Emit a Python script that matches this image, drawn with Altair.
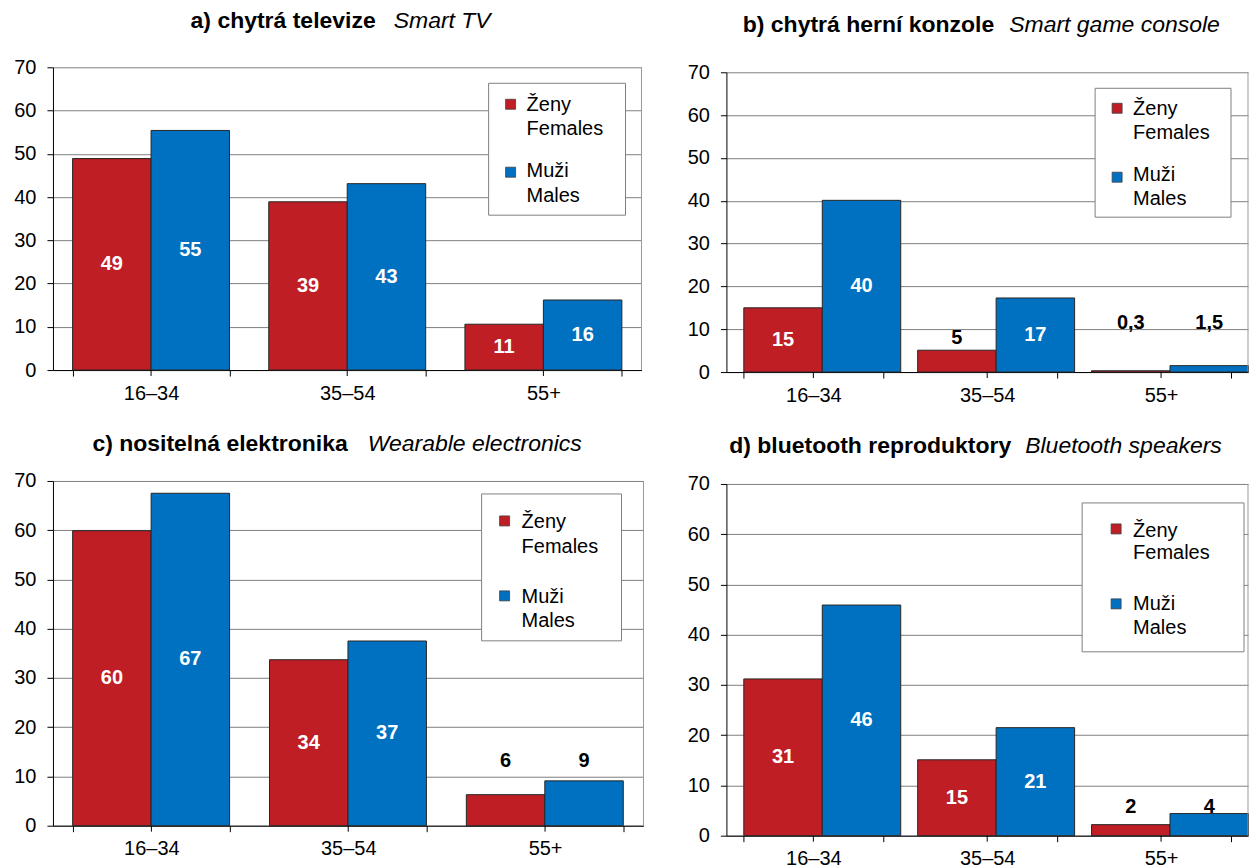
import altair as alt
import pandas as pd

# ---------------- data ----------------
age_groups = ["16–34", "35–54", "55+"]
sex_cz = ["Ženy", "Muži"]
sex_en = ["Females", "Males"]
bar_colors = ["#BE1E24", "#0070C0"]

titles_cz = ["a) chytrá televize", "b) chytrá herní konzole",
             "c) nositelná elektronika", "d) bluetooth reproduktory"]
titles_en = ["Smart TV", "Smart game console",
             "Wearable electronics", "Bluetooth speakers"]

tv_females = [48.9, 38.9, 10.6]
tv_males = [55.4, 43.1, 16.2]
tv_females_lbl = ["49", "39", "11"]
tv_males_lbl = ["55", "43", "16"]

console_females = [15.0, 5.1, 0.3]
console_males = [40.1, 17.3, 1.5]
console_females_lbl = ["15", "5", "0,3"]
console_males_lbl = ["40", "17", "1,5"]

wearable_females = [59.9, 33.7, 6.3]
wearable_males = [67.5, 37.5, 9.1]
wearable_females_lbl = ["60", "34", "6"]
wearable_males_lbl = ["67", "37", "9"]

speakers_females = [31.2, 15.1, 2.2]
speakers_males = [45.9, 21.5, 4.4]
speakers_females_lbl = ["31", "15", "2"]
speakers_males_lbl = ["46", "21", "4"]

y_ticks = [0, 10, 20, 30, 40, 50, 60, 70]

# ---------------- styling / layout ----------------
FONT = "Liberation Sans"
TICK_FS = 20
HSPACE = 83
ROW_TOP = [66, 480]
ROW_H = [305, 355]
LEFT = 53
COL_W = [591, 522]

layout = {
    "a": dict(row=0, col=0, w=589, top=66, bottom=369, out=[None, None, None],
              title_split=(376, 394), title_base=27,
              box=(489, 82, 626, 214), sq_x=506, sq_y=(98, 166), txt_x=527,
              base=(110, 134, 176, 201)),
    "b": dict(row=0, col=1, w=522, top=71, bottom=371, out=[None, 7.9, 11.4],
              title_split=(995, 1010), title_base=31,
              box=(1096, 87, 1232, 216), sq_x=1113, sq_y=(102, 171), txt_x=1134,
              base=(114, 138, 180, 204)),
    "c": dict(row=1, col=0, w=591, top=480, bottom=825, out=[None, None, 13.2],
              title_split=(348, 368), title_base=450,
              box=(482, 493, 622, 640), sq_x=500, sq_y=(515, 590), txt_x=522,
              base=(527, 552, 602, 626)),
    "d": dict(row=1, col=1, w=522, top=483, bottom=835, out=[None, None, 5.8],
              title_split=(1012, 1026), title_base=452,
              box=(1083, 502, 1245, 651), sq_x=1112, sq_y=(523, 598), txt_x=1134,
              base=(536, 558, 609, 633)),
}
COL_LEFT = [LEFT, LEFT + COL_W[0] + HSPACE]

ONE = pd.DataFrame({"k": [0]})


def panel(key, idx, fem, mal, fem_lbl, mal_lbl):
    L = layout[key]
    ox, oy = COL_LEFT[L["col"]], ROW_TOP[L["row"]]
    H = ROW_H[L["row"]]
    W = L["w"]
    top_px = L["top"] - oy
    bot_px = L["bottom"] - oy

    rows = []
    for g, age in enumerate(age_groups):
        for s, (vals, lbls) in enumerate([(fem, fem_lbl), (mal, mal_lbl)]):
            v = vals[g]
            inside = v >= 10
            ly = v / 2 if inside else L["out"][g]
            rows.append(dict(age=age, sex=sex_cz[s], value=v, label=lbls[g],
                             inside=inside, ly=ly))
    df = pd.DataFrame(rows)

    xscale = alt.Scale(domain=age_groups, paddingInner=0.2, paddingOuter=0.1)
    yscale = alt.Scale(domain=[0, 70], range=[bot_px, top_px], nice=False)
    x_enc = alt.X("age:N", scale=xscale, sort=age_groups,
                  axis=alt.Axis(title=None, labelAngle=0, tickBand="extent",
                                offset=bot_px - H, domainColor="black",
                                tickColor="black", tickSize=6, labelPadding=7,
                                labelFontSize=TICK_FS, labelFont=FONT,
                                labelColor="black", grid=False))
    xoff = alt.XOffset("sex:N", sort=sex_cz,
                       scale=alt.Scale(domain=sex_cz, paddingInner=0, paddingOuter=0))
    y_axis = alt.Axis(title=None, values=y_ticks, grid=True,
                      gridColor="#808080", gridWidth=1,
                      domainColor="black", tickColor="black", tickSize=6,
                      labelPadding=11, labelFontSize=TICK_FS, labelFont=FONT,
                      labelColor="black")

    bars = alt.Chart(df).mark_bar(stroke="#262626", strokeWidth=1).encode(
        x=x_enc,
        xOffset=xoff,
        y=alt.Y("value:Q", scale=yscale, axis=y_axis),
        color=alt.Color("sex:N", scale=alt.Scale(domain=sex_cz, range=bar_colors),
                        legend=None),
    )

    labels = alt.Chart(df).mark_text(fontWeight="bold", fontSize=20, font=FONT,
                                     baseline="middle").encode(
        x=x_enc,
        xOffset=xoff,
        y=alt.Y("ly:Q", scale=yscale),
        text="label:N",
        color=alt.condition("datum.inside", alt.value("white"), alt.value("black")),
    )

    center_ticks = alt.Chart(pd.DataFrame({"age": age_groups})).mark_rule(
        color="black", strokeWidth=1).encode(
        x=x_enc, y=alt.value(bot_px), y2=alt.value(bot_px + 6))

    right_edge = alt.Chart(ONE).mark_rule(color="#9a9a9a", strokeWidth=1).encode(
        x=alt.value(W), y=alt.value(top_px), y2=alt.value(bot_px))

    layers = [bars, center_ticks, right_edge, labels]

    # titles
    sb, si = L["title_split"]
    layers.append(alt.Chart(ONE).mark_text(
        text=titles_cz[idx], font=FONT, fontSize=23, fontWeight="bold",
        align="right", baseline="alphabetic", color="black").encode(
        x=alt.value(sb - ox), y=alt.value(L["title_base"] - oy)))
    layers.append(alt.Chart(ONE).mark_text(
        text=titles_en[idx], font=FONT, fontSize=23, fontStyle="italic",
        align="left", baseline="alphabetic", color="black").encode(
        x=alt.value(si - ox), y=alt.value(L["title_base"] - oy)))

    # legend
    bx0, by0, bx1, by1 = L["box"]
    layers.append(alt.Chart(ONE).mark_rect(fill="white", stroke="#808080",
                                           strokeWidth=1).encode(
        x=alt.value(bx0 - ox), x2=alt.value(bx1 - ox),
        y=alt.value(by0 - oy), y2=alt.value(by1 - oy)))
    for s in range(2):
        sy = L["sq_y"][s]
        layers.append(alt.Chart(ONE).mark_rect(fill=bar_colors[s], stroke="#404040",
                                               strokeWidth=0.8).encode(
            x=alt.value(L["sq_x"] - ox), x2=alt.value(L["sq_x"] + 10 - ox),
            y=alt.value(sy - oy), y2=alt.value(sy + 10 - oy)))
        for j, txt in enumerate([sex_cz[s], sex_en[s]]):
            layers.append(alt.Chart(ONE).mark_text(
                text=txt, font=FONT, fontSize=20, align="left",
                baseline="alphabetic", color="black").encode(
                x=alt.value(L["txt_x"] - ox), y=alt.value(L["base"][2 * s + j] - oy)))

    return alt.layer(*layers).properties(width=W, height=H)


pa = panel("a", 0, tv_females, tv_males, tv_females_lbl, tv_males_lbl)
pb = panel("b", 1, console_females, console_males, console_females_lbl, console_males_lbl)
pc = panel("c", 2, wearable_females, wearable_males, wearable_females_lbl, wearable_males_lbl)
pd_ = panel("d", 3, speakers_females, speakers_males, speakers_females_lbl, speakers_males_lbl)

chart = alt.concat(
    pa, pb, pc, pd_, columns=2, bounds="flush",
    spacing={"row": ROW_TOP[1] - (ROW_TOP[0] + ROW_H[0]), "column": HSPACE},
).properties(
    padding={"left": 5, "top": 2, "right": 0, "bottom": 0},
    background="white",
).configure_view(stroke=None).configure_axis(domainWidth=1, tickWidth=1)

chart.save("out.html", embed_options={"renderer": "svg", "actions": False})
